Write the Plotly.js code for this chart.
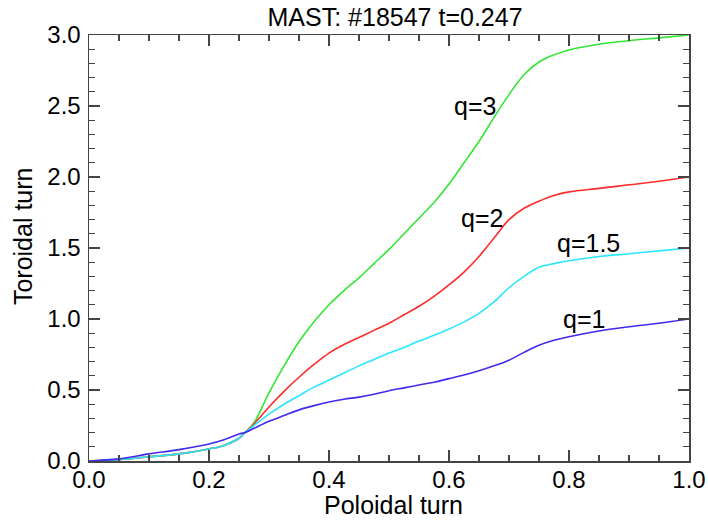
<!DOCTYPE html>
<html>
<head>
<meta charset="utf-8">
<script src="https://cdn.plot.ly/plotly-3.0.1.min.js"></script>
<style>html,body{margin:0;padding:0;background:#fff;}#chart{width:708px;height:520px;}</style>
</head>
<body>
<div id="chart"></div>
<script>
const poloidal = [0, 0.05, 0.1, 0.15, 0.2, 0.225, 0.25, 0.26, 0.275, 0.3, 0.325, 0.35, 0.375, 0.4, 0.425, 0.45, 0.475, 0.5, 0.525, 0.55, 0.575, 0.6, 0.625, 0.65, 0.675, 0.7, 0.725, 0.75, 0.775, 0.8, 0.85, 0.9, 0.95, 1.0];
const q3  = [0, 0.01, 0.03, 0.05, 0.085, 0.11, 0.16, 0.2, 0.27, 0.48, 0.67, 0.84, 0.98, 1.1, 1.2, 1.29, 1.39, 1.49, 1.6, 1.71, 1.82, 1.95, 2.1, 2.25, 2.42, 2.58, 2.72, 2.81, 2.86, 2.895, 2.935, 2.96, 2.98, 3.0];
const q2  = [0, 0.01, 0.03, 0.05, 0.085, 0.11, 0.16, 0.2, 0.26, 0.38, 0.49, 0.59, 0.68, 0.76, 0.82, 0.87, 0.92, 0.97, 1.03, 1.09, 1.16, 1.24, 1.33, 1.44, 1.57, 1.7, 1.78, 1.83, 1.87, 1.895, 1.92, 1.945, 1.97, 2.0];
const q15 = [0, 0.01, 0.03, 0.05, 0.085, 0.11, 0.16, 0.2, 0.25, 0.33, 0.4, 0.46, 0.52, 0.57, 0.62, 0.67, 0.715, 0.76, 0.8, 0.845, 0.885, 0.93, 0.98, 1.04, 1.12, 1.22, 1.3, 1.365, 1.39, 1.41, 1.44, 1.46, 1.48, 1.5];
const q1  = [0, 0.015, 0.05, 0.08, 0.12, 0.15, 0.19, 0.2, 0.23, 0.28, 0.32, 0.36, 0.39, 0.415, 0.435, 0.45, 0.47, 0.495, 0.515, 0.535, 0.555, 0.58, 0.605, 0.635, 0.67, 0.71, 0.765, 0.815, 0.85, 0.875, 0.915, 0.945, 0.97, 1.0];
const labels = ['q=3', 'q=2', 'q=1.5', 'q=1'];
const labelX = [0.643, 0.655, 0.833, 0.825];
const labelY = [2.5, 1.71, 1.535, 1.0];
const colors = ['#33e633', '#ff2a2a', '#2ae6ff', '#3f2aee'];
const series = [q3, q2, q15, q1];
const xTitle = 'Poloidal turn';
const yTitle = 'Toroidal turn';

const FONT = 'Liberation Sans, Arial, sans-serif';

const traces = series.map((s, i) => ({
  x: poloidal, y: s, type: 'scatter', mode: 'lines',
  line: {color: colors[i], width: 1.6, shape: 'spline', smoothing: 1},
  showlegend: false, hoverinfo: 'skip'
}));

const annotations = labels.map((t, i) => ({
  x: labelX[i], y: labelY[i], xref: 'x', yref: 'y', text: t, showarrow: false,
  font: {family: FONT, size: 25, color: '#000'}
}));
annotations.push({
  text: xTitle, xref: 'paper', yref: 'paper', x: 0.508, y: -0.104,
  xanchor: 'center', yanchor: 'middle', showarrow: false,
  font: {family: FONT, size: 25, color: '#000'}
});
annotations.push({
  text: yTitle, xref: 'paper', yref: 'paper', x: -0.11, y: 0.528, textangle: -90,
  xanchor: 'center', yanchor: 'middle', showarrow: false,
  font: {family: FONT, size: 25, color: '#000'}
});

const axisCommon = {
  showgrid: false, zeroline: false, showline: true, linecolor: '#444', linewidth: 1.5,
  mirror: 'allticks', ticks: 'inside', ticklen: 11, tickwidth: 1.3, tickcolor: '#444',
  tickfont: {family: FONT, size: 24, color: '#000'}
};

const layout = {
  width: 708, height: 520,
  margin: {l: 89, r: 19, t: 35, b: 59},
  paper_bgcolor: '#fff', plot_bgcolor: '#fff',
  title: {text: 'MAST: #18547 t=0.247', x: 0.558, xanchor: 'center', y: 0.967, yanchor: 'middle',
          font: {family: FONT, size: 25, color: '#000'}},
  xaxis: Object.assign({}, axisCommon, {
    range: [0, 1], tickvals: [0, 0.2, 0.4, 0.6, 0.8, 1.0], ticktext: ['0.0', '0.2', '0.4', '0.6', '0.8', '1.0'],
    ticklabelstandoff: -3,
    minor: {dtick: 0.05, tick0: 0, ticks: 'inside', ticklen: 6, tickwidth: 1.2, tickcolor: '#444', showgrid: false}
  }),
  yaxis: Object.assign({}, axisCommon, {
    range: [0, 3], tickvals: [0, 0.5, 1.0, 1.5, 2.0, 2.5, 3.0], ticktext: ['0.0', '0.5', '1.0', '1.5', '2.0', '2.5', '3.0'],
    ticklabelstandoff: 2,
    minor: {dtick: 0.1, tick0: 0, ticks: 'inside', ticklen: 6, tickwidth: 1.2, tickcolor: '#444', showgrid: false}
  }),
  annotations: annotations
};

Plotly.newPlot('chart', traces, layout, {displayModeBar: false, staticPlot: true});
</script>
</body>
</html>
